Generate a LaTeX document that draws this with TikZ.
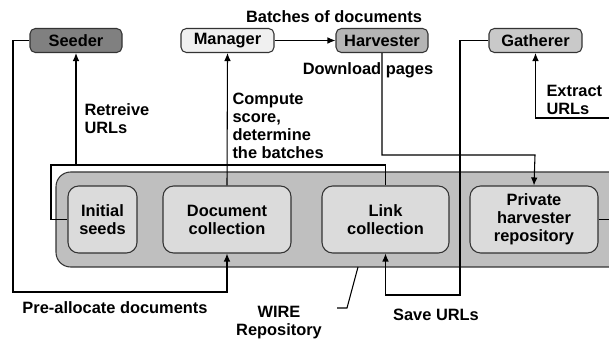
\documentclass[tikz,border=0pt]{standalone}
\usepackage{fontspec}
\setmainfont{Liberation Sans}
\usetikzlibrary{arrows.meta}
\definecolor{seedgray}{gray}{0.50}
\definecolor{mangray}{gray}{0.94}
\definecolor{harvgray}{gray}{0.71}
\definecolor{gathgray}{gray}{0.79}
\definecolor{repogray}{gray}{0.75}
\definecolor{coltgray}{gray}{0.86}
\begin{document}
\begin{tikzpicture}[x=0.75pt, y=-0.75pt, line width=0.8pt,
    >={Latex[length=6pt,width=5pt]},
    every node/.style={font=\fontsize{12.3}{13.5}\selectfont\bfseries},
    modbox/.style={draw=black!80, rounded corners=4pt, minimum width=92\pgflinewidth, minimum height=24*0.75pt, inner sep=0pt},
    colbox/.style={draw=black!80, fill=coltgray, rounded corners=8pt, minimum height=67*0.75pt, inner sep=0pt, align=center},
    lbl/.style={align=left, inner sep=0pt}]
    \useasboundingbox (0,0) rectangle (609,341);
    \clip (0,0) rectangle (609,341);
    % the repository
    \draw[draw=black!80, fill=repogray, rounded corners=11pt] (56,172) rectangle (640,267);
    \node[colbox, minimum width=69*0.75pt] (seeds) at (102.5,219.5) {Initial\\seeds};
    \node[colbox, minimum width=128*0.75pt] (doccoll) at (227,219.5) {Document\\collection};
    \node[colbox, minimum width=127*0.75pt] (linkcoll) at (385.5,219.5) {Link\\collection};
    \node[colbox, minimum width=128*0.75pt] (private) at (534,219.5) {Private\\harvester\\repository};
    % the modules
    \node[modbox, fill=seedgray, minimum width=92*0.75pt] (seeder) at (76,40.5) {Seeder};
    \node[modbox, fill=mangray, minimum width=93*0.75pt] (manager) at (227.5,40.5) {Manager};
    \node[modbox, fill=harvgray, minimum width=92*0.75pt] (harvester) at (382,40.5) {Harvester};
    \node[modbox, fill=gathgray, minimum width=93*0.75pt] (gatherer) at (535.5,40.5) {Gatherer};
    %corners of the connectors
    \coordinate (preal) at (13,292);
    \coordinate (retr) at (51,165);
    \coordinate (down) at (535,155);
    \coordinate (save) at (460,295);
    \coordinate (extr) at (614,118);
    \draw[->] (manager.east) -- (harvester.west);
    \draw[->] (seeder.west) -| (preal) -| (doccoll.south);
    \draw (linkcoll.north) |- (retr) |- (seeds.west);
    \draw[->] (seeder.south |- retr) -- (seeder.south);
    \draw[->] (doccoll.north) -- (manager.south);
    \draw[->] (harvester.south) |- (down) -- (private.north);
    \draw[->] (gatherer.west) -| (save) -| (linkcoll.south);
    \draw[->] (private.east) -| (extr) -| (gatherer.south);
    \draw (358,267) -- (347,308) -- (337,308);
    % labels
    \node[inner sep=0pt] (batches) at (334,17) {Batches of documents};
    \node[inner sep=0pt] (download) at (368,70) {Download pages};
    \node[lbl, anchor=west] (retrlbl) at (84,119) {Retreive\\URLs};
    \node[lbl, anchor=west] (complbl) at (232,126) {Compute\\score,\\determine\\the batches};
    \node[lbl, anchor=west] (extrlbl) at (546,100) {Extract\\URLs};
    \node[inner sep=0pt] (prelbl) at (115,308) {Pre-allocate documents};
    \node[inner sep=0pt] (savelbl) at (436,315) {Save URLs};
    \node[inner sep=0pt, align=center] (wire) at (279,323) {WIRE\\Repository};
\end{tikzpicture}
\end{document}
